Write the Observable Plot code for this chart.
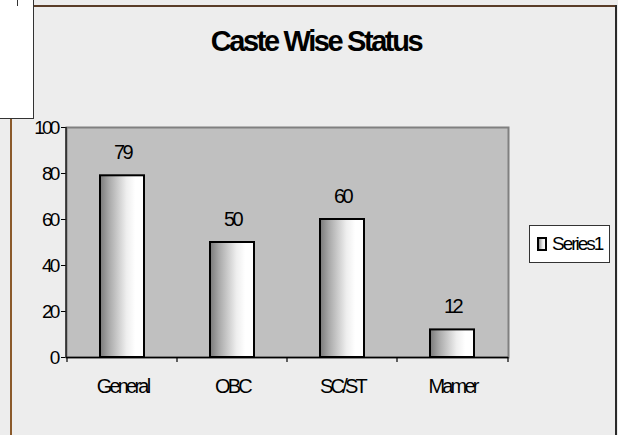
<!DOCTYPE html>
<html>
<head>
<meta charset="utf-8">
<script src="https://cdn.jsdelivr.net/npm/d3@7"></script>
<script src="https://cdn.jsdelivr.net/npm/@observablehq/plot@0.6"></script>
<style>
  html, body { margin:0; padding:0; }
  body { width:618px; height:435px; overflow:hidden; background:#ededed; }
  #wrap { position:relative; width:618px; height:435px; background:#ededed; font-family:"Liberation Sans", Arial, sans-serif; }
  #wrap svg text { letter-spacing:-2.6px; }
  .abs { position:absolute; }
  #title { left:0; width:632px; top:27px; text-align:center; font-weight:bold; font-size:29px; line-height:29px; letter-spacing:-2.4px; color:#000; }
  #legend { left:529px; top:225px; width:79px; height:36px; background:#fff; border:1px solid #333; }
  #legend .lab { position:absolute; left:22px; top:7px; font-size:19px; line-height:22px; letter-spacing:-2px; color:#000; }
</style>
</head>
<body>
<div id="wrap">
  <div class="abs" style="left:33px;top:5px;width:584px;height:2px;background:#5a3d28;"></div>
  <div class="abs" style="left:615px;top:5px;width:2px;height:430px;background:#2a2a2a;"></div>
  <div class="abs" style="left:10px;top:118px;width:2px;height:317px;background:#8b5a2b;"></div>
  <div class="abs" style="left:0;top:0;width:33px;height:118px;background:#fff;border-right:1px solid #333;border-bottom:1px solid #333;"></div>
  <div class="abs" style="left:17px;top:0;width:1px;height:6px;background:#333;"></div>
  <div id="chart" class="abs" style="left:0;top:0;"></div>
  <div id="title" class="abs"></div>
  <div id="legend" class="abs">
    <svg width="20" height="36" style="position:absolute;left:0;top:0">
      <defs>
        <linearGradient id="legGrad" x1="0" x2="1" y1="0" y2="0">
          <stop offset="0" stop-color="#7a7a7a"/>
          <stop offset="0.6" stop-color="#eeeeee"/>
          <stop offset="1" stop-color="#ffffff"/>
        </linearGradient>
      </defs>
      <rect x="8" y="12" width="8" height="12" fill="url(#legGrad)" stroke="#000" stroke-width="2"/>
    </svg>
    <div class="lab"></div>
  </div>
</div>
<script>
const title = "Caste Wise Status";
const seriesName = "Series1";
const categories = ["General", "OBC", "SC/ST", "Mamer"];
const values = [79, 50, 60, 12];
const yTicks = [0, 20, 40, 60, 80, 100];

document.getElementById("title").textContent = title;
document.querySelector("#legend .lab").textContent = seriesName;

const data = categories.map((c, i) => ({category: c, value: values[i]}));

const chart = Plot.plot({
  width: 618,
  height: 435,
  marginTop: 127,
  marginLeft: 66,
  marginRight: 110,
  marginBottom: 78,
  style: {background: "transparent", fontFamily: "'Liberation Sans', Arial, sans-serif", fontSize: "19px", color: "#000"},
  x: {domain: categories, padding: 0, label: null, tickSize: 0, tickPadding: 21},
  y: {domain: [0, 100], ticks: yTicks, label: null, tickSize: 5, tickPadding: 4},
  marks: [
    Plot.frame({fill: "#c0c0c0", stroke: "#808080", strokeWidth: 2}),
    Plot.ruleY([0], {stroke: "#000", strokeWidth: 1.5}),
    Plot.barY(data, {x: "category", y: "value", insetLeft: 33, insetRight: 33, fill: "#dddddd", stroke: "#000", strokeWidth: 2}),
    Plot.text(data, {x: "category", y: "value", text: d => String(d.value), dy: -23, fontSize: 20, fill: "#000"})
  ]
});

document.getElementById("chart").appendChild(chart);

const svg = d3.select(chart);
const defs = svg.insert("defs", ":first-child");
const grad = defs.append("linearGradient").attr("id", "barGrad").attr("x1", 0).attr("x2", 1).attr("y1", 0).attr("y2", 0);
[[0, "#7a7a7a"], [0.2, "#a8a8a8"], [0.6, "#eeeeee"], [0.8, "#ffffff"], [1, "#ffffff"]].forEach(([o, c]) => grad.append("stop").attr("offset", o).attr("stop-color", c));
svg.selectAll('g[aria-label="bar"] rect').attr("fill", "url(#barGrad)");

const xs = chart.scale("x");
const ys = chart.scale("y");
const y0 = ys.apply(0), y100 = ys.apply(100);
const bounds = categories.map(c => xs.apply(c)).concat([xs.range[1]]);
const g = svg.append("g").attr("stroke", "#000").attr("stroke-width", 1.2);
bounds.forEach(b => g.append("line").attr("x1", b).attr("x2", b).attr("y1", y0).attr("y2", y0 + 5));
g.append("line").attr("x1", xs.range[0]).attr("x2", xs.range[0]).attr("y1", y100).attr("y2", y0);
svg.selectAll('g[aria-label="x-axis tick label"] text, g[aria-label="x-axis"] text').style("font-size", "20px").style("letter-spacing", "-2.8px");
svg.selectAll('g[aria-label="y-axis tick label"] text, g[aria-label="y-axis"] text').style("letter-spacing", "-2.8px");
</script>
</body>
</html>
